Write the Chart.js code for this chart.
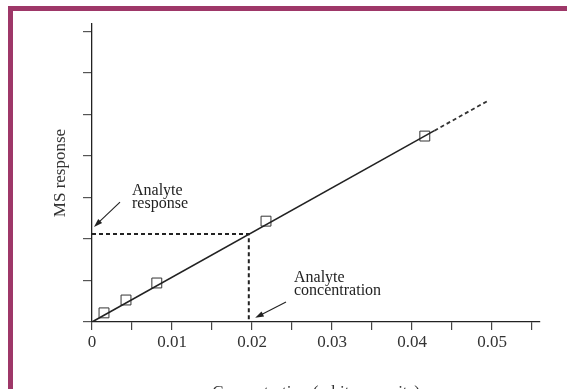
<!DOCTYPE html>
<html>
<head>
<meta charset="utf-8">
<script src="https://cdn.jsdelivr.net/npm/chart.js@4"></script>
<style>
  html, body { margin: 0; padding: 0; background: #fff; overflow: hidden; }
  #wrap { position: relative; width: 567px; height: 389px; overflow: hidden; }
  #frame {
    position: absolute; left: 8px; top: 6px; right: 0; bottom: 0;
    border-left: 5px solid #9e3768; border-top: 5px solid #9e3768;
    pointer-events: none;
  }
  canvas { position: absolute; left: 0; top: 0; }
</style>
</head>
<body>
<div id="wrap">
  <canvas id="chart" width="567" height="410"></canvas>
  <div id="frame"></div>
</div>
<script>
// calibration standards
const standardX = [0.0015, 0.00425, 0.0081, 0.02175, 0.0416];
const standardY = [0.22, 0.53, 0.94, 2.43, 4.48];

// fitted line: solid part, then dashed extrapolation
const fitX = [0, 0.0428];
const fitY = [0, 4.61];
const extX = [0.0428, 0.0494];
const extY = [4.61, 5.32];

// reading the unknown off the curve
const analyteX = [0, 0.0196, 0.0196];
const analyteY = [2.12, 2.12, 0];

const xTicks = [0, 0.005, 0.01, 0.015, 0.02, 0.025, 0.03, 0.035, 0.04, 0.045, 0.05, 0.055];
const xTickLabels = ['0', '', '0.01', '', '0.02', '', '0.03', '', '0.04', '', '0.05', ''];
const yTicks = [0, 1, 2, 3, 4, 5, 6, 7];

// callouts: text anchor and arrow (tail -> head), in data units
const notes = [
  { lines: ['Analyte', 'response'], x: 0.005, y: 3.06, from: [0.0035, 2.89], to: [0.00025, 2.29] },
  { lines: ['Analyte', 'concentration'], x: 0.02525, y: 0.96, from: [0.02425, 0.48], to: [0.0204, 0.1] },
];

const SERIF = '"Liberation Serif", "DejaVu Serif", serif';
const INK = '#222';

const pts = (xs, ys) => xs.map((x, i) => ({ x, y: ys[i] }));

const calloutPlugin = {
  id: 'callouts',
  afterDatasetsDraw(chart) {
    const { ctx, scales: { x, y } } = chart;
    ctx.save();
    ctx.fillStyle = INK;
    ctx.strokeStyle = INK;
    ctx.font = '16px ' + SERIF;
    ctx.textBaseline = 'alphabetic';
    notes.forEach(n => {
      const tx = x.getPixelForValue(n.x);
      const ty = y.getPixelForValue(n.y);
      n.lines.forEach((line, i) => ctx.fillText(line, tx, ty + i * 13));

      const x1 = x.getPixelForValue(n.from[0]);
      const y1 = y.getPixelForValue(n.from[1]);
      const x2 = x.getPixelForValue(n.to[0]);
      const y2 = y.getPixelForValue(n.to[1]);
      const ang = Math.atan2(y2 - y1, x2 - x1);
      const head = 9;
      ctx.lineWidth = 1.1;
      ctx.beginPath();
      ctx.moveTo(x1, y1);
      ctx.lineTo(x2 - Math.cos(ang) * head * 0.8, y2 - Math.sin(ang) * head * 0.8);
      ctx.stroke();
      ctx.beginPath();
      ctx.moveTo(x2, y2);
      ctx.lineTo(x2 - head * Math.cos(ang - 0.32), y2 - head * Math.sin(ang - 0.32));
      ctx.lineTo(x2 - head * Math.cos(ang + 0.32), y2 - head * Math.sin(ang + 0.32));
      ctx.closePath();
      ctx.fill();
    });
    ctx.restore();
  },
};

new Chart(document.getElementById('chart'), {
  type: 'scatter',
  data: {
    datasets: [
      {
        data: pts(fitX, fitY),
        showLine: true,
        borderColor: INK,
        borderWidth: 1.6,
        pointRadius: 0,
      },
      {
        data: pts(extX, extY),
        showLine: true,
        borderColor: '#333',
        borderWidth: 1.8,
        borderDash: [4, 3],
        pointRadius: 0,
      },
      {
        data: pts(analyteX, analyteY),
        showLine: true,
        borderColor: INK,
        borderWidth: 2,
        borderDash: [4, 3],
        pointRadius: 0,
      },
      {
        data: pts(standardX, standardY),
        showLine: false,
        pointStyle: 'rect',
        pointRadius: 7,
        pointBorderWidth: 1,
        pointBorderColor: '#333',
        pointBackgroundColor: 'rgba(0,0,0,0)',
      },
    ],
  },
  options: {
    responsive: false,
    animation: false,
    layout: { padding: { top: 24, right: 27, left: 0, bottom: 0 } },
    plugins: { legend: { display: false }, tooltip: { enabled: false } },
    scales: {
      x: {
        type: 'linear',
        min: 0,
        max: 0.056,
        afterBuildTicks: s => { s.ticks = xTicks.map(v => ({ value: v })); },
        afterFit: s => { s.height = 88; },
        grid: { drawOnChartArea: false, tickLength: 8, color: '#444', lineWidth: 1.2 },
        border: { display: true, color: INK, width: 1.3 },
        ticks: {
          autoSkip: false,
          maxRotation: 0,
          padding: 2,
          color: '#333',
          font: { family: SERIF, size: 17 },
          callback: (v, i) => xTickLabels[i],
        },
        title: {
          display: true,
          text: 'Concentration (arbitrary units)',
          color: '#333',
          font: { family: SERIF, size: 17 },
          padding: { top: 0, bottom: 7 },
        },
      },
      y: {
        type: 'linear',
        min: 0,
        max: 7.18,
        afterBuildTicks: s => { s.ticks = yTicks.map(v => ({ value: v })); },
        afterFit: s => { s.width = 92; },
        grid: { drawOnChartArea: false, tickLength: 9, color: '#555', lineWidth: 1.2 },
        border: { display: true, color: INK, width: 1.3 },
        ticks: { display: true, callback: () => '' },
        title: {
          display: true,
          text: 'MS response',
          color: '#333',
          font: { family: SERIF, size: 17 },
          padding: { top: 50, bottom: 0 },
        },
      },
    },
  },
  plugins: [calloutPlugin],
});
</script>
</body>
</html>
